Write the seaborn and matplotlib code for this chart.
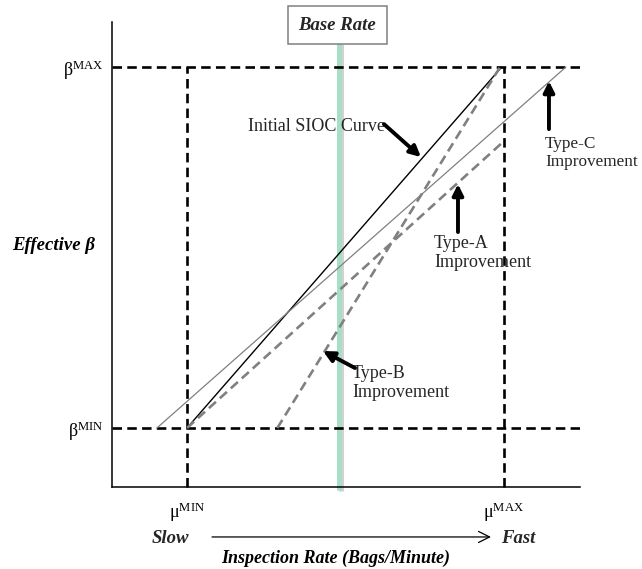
import numpy as np
import pandas as pd
import matplotlib
matplotlib.use("Agg")
import matplotlib.pyplot as plt
import seaborn as sns
from matplotlib import patheffects as pe

# ---------------- data ----------------
rate_ticks = [1.0, 5.0]
rate_labels = ["μ$^{\\mathrm{MIN}}$", "μ$^{\\mathrm{MAX}}$"]
beta_ticks = [1.0, 5.0]
beta_labels = ["β$^{\\mathrm{MIN}}$", "β$^{\\mathrm{MAX}}$"]
base_rate = 2.92

initial_x = [1.0, 4.97]
initial_y = [1.0, 5.0]
type_a_x = [1.0, 5.0]
type_a_y = [1.0, 4.18]
type_b_x = [2.14, 4.95]
type_b_y = [1.0, 5.0]
type_c_x = [0.62, 5.78]
type_c_y = [1.0, 5.0]

# ---------------- style ----------------
sns.set_theme(style="white")
plt.rcParams["font.family"] = ["Liberation Serif", "DejaVu Serif"]
plt.rcParams["mathtext.fontset"] = "custom"
plt.rcParams["mathtext.rm"] = "Liberation Serif"
plt.rcParams["mathtext.it"] = "Liberation Serif:italic"
plt.rcParams["mathtext.bf"] = "Liberation Serif:bold"

fig = plt.figure(figsize=(6.42, 5.69), dpi=100)
ax = fig.add_axes([0.1745, 0.1441, 0.7290, 0.8172])
ax.set_xlim(0.054, 5.96)
ax.set_ylim(0.346, 5.50)


def dx(px):
    return (px - 107.75) / 79.25


def dy(py):
    return (518.25 - py) / 90.25


FS = 13
GRAY = "#808080"

# guide lines
for b in beta_ticks:
    ax.axhline(b, color="black", lw=1.9, linestyle=(0, (3.6, 2.0)), zorder=2)
ax.vlines(rate_ticks, ax.get_ylim()[0], beta_ticks[1], color="black", lw=1.9,
          linestyles=[(0, (3.6, 2.0))], zorder=2, clip_on=False)

# base rate line
ax.plot([base_rate, base_rate], [dy(490), dy(43)], color="#a6dec8", lw=3.6,
        solid_capstyle="butt", clip_on=False, zorder=1,
        path_effects=[pe.SimpleLineShadow(offset=(1.2, -0.5), shadow_color="gray", alpha=0.35),
                      pe.Normal()])

# curves
df = pd.concat([
    pd.DataFrame({"rate": initial_x, "beta": initial_y, "curve": "Initial"}),
    pd.DataFrame({"rate": type_a_x, "beta": type_a_y, "curve": "Type-A"}),
    pd.DataFrame({"rate": type_b_x, "beta": type_b_y, "curve": "Type-B"}),
    pd.DataFrame({"rate": type_c_x, "beta": type_c_y, "curve": "Type-C"}),
])
styles = {
    "Initial": dict(color="black", lw=1.0, linestyle="-"),
    "Type-A": dict(color=GRAY, lw=1.9, linestyle=(0, (3.6, 2.0))),
    "Type-B": dict(color=GRAY, lw=1.9, linestyle=(0, (3.6, 2.0))),
    "Type-C": dict(color=GRAY, lw=0.9, linestyle="-"),
}
for name, sub in df.groupby("curve", sort=False):
    sns.lineplot(data=sub, x="rate", y="beta", ax=ax, estimator=None, sort=False,
                 zorder=3, legend=False, **styles[name])

# axes styling
sns.despine(ax=ax)
for s in ["left", "bottom"]:
    ax.spines[s].set_color("black")
    ax.spines[s].set_linewidth(1.1)
ax.set_xticks(rate_ticks)
ax.set_xticklabels(rate_labels, fontsize=FS)
ax.set_yticks(beta_ticks)
ax.set_yticklabels(beta_labels, fontsize=FS)
ax.tick_params(axis="both", length=0, colors="black")
ax.tick_params(axis="x", pad=9.5)
ax.tick_params(axis="y", pad=6)

ax.set_xlabel("Inspection Rate (Bags/Minute)", fontsize=13, fontweight="bold",
              fontstyle="italic", color="black")
ax.xaxis.set_label_coords((336 - 112) / 468, (487 - 558) / 465)
ax.xaxis.label.set_va("center")
ax.set_ylabel("Effective β", fontsize=13.5, fontweight="bold", fontstyle="italic",
              rotation=0, color="black")
ax.yaxis.set_label_coords((54 - 112) / 468, (487 - 245) / 465)
ax.yaxis.label.set_ha("center")
ax.yaxis.label.set_va("center")

# Slow -> Fast
ax.text(dx(170), dy(539), "Slow", fontsize=13.5, fontweight="bold", fontstyle="italic",
        ha="center", va="center", clip_on=False)
ax.text(dx(518), dy(539), "Fast", fontsize=13.5, fontweight="bold", fontstyle="italic",
        ha="center", va="center", clip_on=False)
ax.annotate("", xy=(dx(491), dy(537)), xytext=(dx(212), dy(537)),
            arrowprops=dict(arrowstyle="->", lw=0.9, color="black", shrinkA=0, shrinkB=0,
                            mutation_scale=20),
            annotation_clip=False)

# Base Rate box
ax.text(dx(337.5), dy(25), "Base Rate", fontsize=13.5, fontweight="bold", fontstyle="italic",
        ha="center", va="center", clip_on=False, zorder=5,
        bbox=dict(boxstyle="square,pad=0.55", fc="white", ec=GRAY, lw=1.1))

# annotations
arrow_kw = dict(arrowstyle="-|>", lw=2.8, color="black", shrinkA=0, shrinkB=0,
                mutation_scale=16)
ax.text(dx(248), dy(126), "Initial SIOC Curve", fontsize=FS, ha="left", va="center", zorder=4)
ax.annotate("", xy=(dx(421), dy(157)), xytext=(dx(384), dy(124)), arrowprops=arrow_kw,
            zorder=4)

ax.text(dx(545), dy(153), "Type-C\nImprovement", fontsize=12.4, ha="left", va="center",
        linespacing=1.12, clip_on=False)
ax.annotate("", xy=(dx(549), dy(81)), xytext=(dx(549), dy(129)), arrowprops=arrow_kw)

ax.text(dx(434), dy(253), "Type-A\nImprovement", fontsize=FS, ha="left", va="center",
        linespacing=1.1)
ax.annotate("", xy=(dx(458), dy(184)), xytext=(dx(458), dy(232)), arrowprops=arrow_kw)

ax.text(dx(352), dy(383), "Type-B\nImprovement", fontsize=FS, ha="left", va="center",
        linespacing=1.1)
ax.annotate("", xy=(dx(323), dy(351)), xytext=(dx(355), dy(368)), arrowprops=arrow_kw)

fig.savefig("out.png", dpi=100)
